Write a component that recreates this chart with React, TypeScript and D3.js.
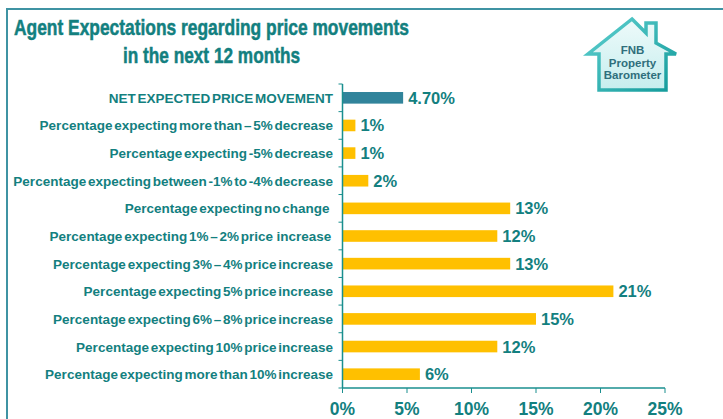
import React from "react";
import * as d3 from "d3";

const categories = [
  "NET EXPECTED PRICE MOVEMENT",
  "Percentage expecting more than \u2013 5% decrease",
  "Percentage expecting -5% decrease",
  "Percentage expecting between -1% to -4% decrease",
  "Percentage expecting no change  ",
  "Percentage expecting 1% \u2013 2% price  increase ",
  "Percentage expecting 3% \u2013 4% price increase",
  "Percentage expecting 5% price increase",
  "Percentage expecting 6% \u2013 8% price increase",
  "Percentage expecting 10% price increase",
  "Percentage expecting more than 10% increase",
];
const values = [4.7, 1, 1, 2, 13, 12, 13, 21, 15, 12, 6];
const valueLabels = ["4.70%", "1%", "1%", "2%", "13%", "12%", "13%", "21%", "15%", "12%", "6%"];
const xTicks = [0, 5, 10, 15, 20, 25];
const titleLines = ["Agent Expectations regarding price movements", "in the next 12 months"];
const logoLines = ["FNB", "Property", "Barometer"];

const W = 723;
const H = 419;
const TEAL = "#13807f";
const AXIS = "#1a8f8f";
const FONT = "'Liberation Sans', Arial, sans-serif";

export default function App() {
  const x = d3.scaleLinear().domain([0, 25]).range([342.5, 665]);
  const y = d3
    .scaleBand<string>()
    .domain(categories)
    .range([84, 388])
    .paddingInner(0.58)
    .paddingOuter(0.29);
  const bandStart = 84;
  const boundaries = d3.range(categories.length + 1).map((i) => bandStart + i * (304 / categories.length));

  return (
    <svg
      width={W}
      height={H}
      style={{ position: "absolute", left: 0, top: 0, background: "#fff" }}
      fontFamily={FONT}
    >
      <defs>
        <linearGradient id="houseFill" x1="0" y1="0" x2="0" y2="1">
          <stop offset="0" stopColor="#eefafa" />
          <stop offset="1" stopColor="#c6eeee" />
        </linearGradient>
        <linearGradient id="houseStroke" x1="0" y1="0" x2="1" y2="1">
          <stop offset="0" stopColor="#5fd0d0" />
          <stop offset="1" stopColor="#129a9a" />
        </linearGradient>
      </defs>
      {/* frame */}
      <path d={`M7,${H + 5} L7,9 L${W + 5},9`} fill="none" stroke="#3f93a3" strokeWidth={2} />

      {/* title */}
      {titleLines.map((t, i) => (
        <text
          key={i}
          x={211.5}
          y={34.5 + i * 28}
          textAnchor="middle"
          fontSize={21.5}
          fontWeight="bold"
          fill={TEAL}
          stroke={TEAL}
          strokeWidth={0.5}
          textLength={i === 0 ? 395 : 177}
          lengthAdjust="spacingAndGlyphs"
        >
          {t}
        </text>
      ))}

      {/* logo */}
      <g>
        <path
          d="M632,19 L646,33 L646,23 L656,23 L656,43 L676,54 L666,54 L666,90 L599,90 L599,54 L588,54 Z"
          fill="url(#houseFill)"
          stroke="url(#houseStroke)"
          strokeWidth={3.5}
          strokeLinejoin="miter"
        />
        {logoLines.map((t, i) => (
          <text
            key={t}
            x={632.5}
            y={54 + i * 12.5}
            textAnchor="middle"
            fontSize={11.5}
            fontWeight="bold"
            fill="#2f6f7c"
          >
            {t}
          </text>
        ))}
      </g>

      {/* bars */}
      {categories.map((c, i) => (
        <rect
          key={c}
          x={x(0)}
          y={y(c)!}
          width={x(values[i]) - x(0)}
          height={y.bandwidth()}
          fill={i === 0 ? "#31849b" : "#ffc000"}
        />
      ))}

      {/* value labels */}
      {categories.map((c, i) => (
        <text
          key={c}
          x={x(values[i]) + 5}
          y={y(c)! + y.bandwidth() / 2 + 6}
          fontSize={16.5}
          fontWeight="bold"
          fill={TEAL}
        >
          {valueLabels[i]}
        </text>
      ))}

      {/* category labels */}
      {categories.map((c, i) => (
        <text
          key={c}
          x={333}
          y={y(c)! + y.bandwidth() / 2 + 5}
          textAnchor="end"
          fontSize={13.5}
          fontWeight="bold"
          fill={TEAL}
          xmlSpace="preserve"
          style={{ whiteSpace: "pre" }}
          wordSpacing={-2}
        >
          {c}
        </text>
      ))}

      {/* y axis */}
      <line x1={x(0)} x2={x(0)} y1={84} y2={388} stroke={AXIS} strokeWidth={1.5} />
      {boundaries.map((b, i) => (
        <line key={i} x1={x(0) - 4} x2={x(0)} y1={b} y2={b} stroke={AXIS} strokeWidth={1} />
      ))}

      {/* x axis */}
      <line x1={x(0)} x2={x(25)} y1={388} y2={388} stroke={AXIS} strokeWidth={1.5} />
      {xTicks.map((t) => (
        <g key={t}>
          <line x1={x(t)} x2={x(t)} y1={388} y2={393} stroke={AXIS} strokeWidth={1} />
          <text x={x(t)} y={415} textAnchor="middle" fontSize={17.5} fontWeight="bold" fill={TEAL}>
            {t}%
          </text>
        </g>
      ))}
    </svg>
  );
}
